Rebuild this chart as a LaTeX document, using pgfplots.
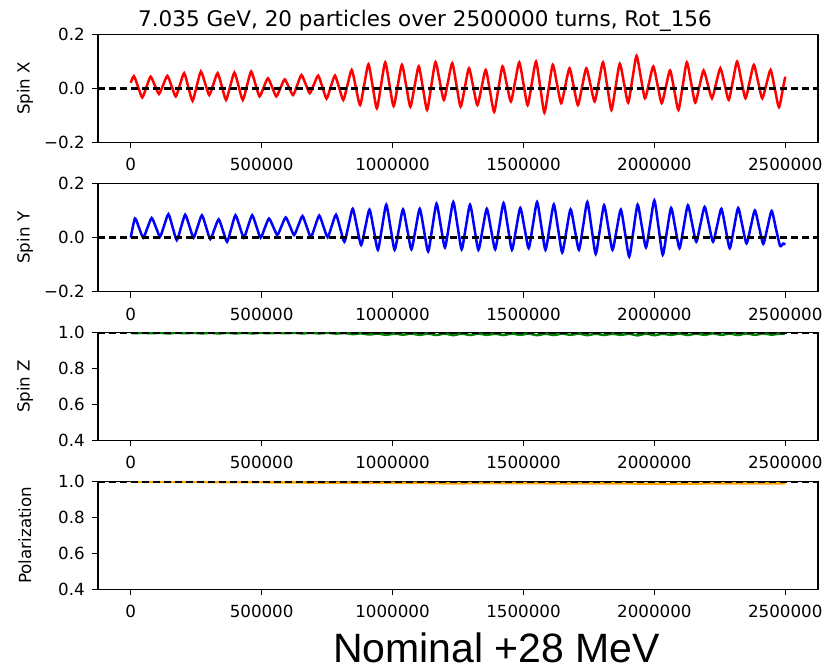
\documentclass[border=0pt]{standalone}
\usepackage{fontspec}
\setmainfont{DejaVu Sans}
\newfontfamily\bigfont{Liberation Sans}
\usepackage{pgfplots}
\pgfplotsset{compat=1.18}

\definecolor{mplred}{RGB}{255,0,0}
\definecolor{mplblue}{RGB}{0,0,255}
\definecolor{mplgreen}{RGB}{0,128,0}
\definecolor{mplorange}{RGB}{255,165,0}

\newcommand{\tickfont}{\fontsize{16.7bp}{19bp}\selectfont}

\pgfplotsset{
  spinaxis/.style={
    anchor=south west,
    width=720bp, height=108bp, scale only axis,
    xmin=-125000, xmax=2625000,
    xtick={0,500000,1000000,1500000,2000000,2500000},
    xticklabels={0,500000,1000000,1500000,2000000,2500000},
    scaled x ticks=false, scaled y ticks=false,
    tick pos=left, tick align=outside,
    major tick length=6bp,
    every tick/.style={black, line width=1.1bp},
    axis line style={black, line width=1.1bp},
    tick label style={font=\tickfont},
    xticklabel style={anchor=north, inner sep=0pt, yshift=-10bp},
    yticklabel style={anchor=east, inner sep=0pt, xshift=-7bp},
    every axis y label/.style={at={(axis description cs:-0.1014,0.5)}, rotate=90, anchor=center, font=\tickfont},
    clip=true,
  },
  trace/.style={line width=2.5bp, smooth, tension=0.4},
  refline/.style={black, line width=2.5bp, dash pattern=on 7bp off 4bp},
}

\begin{document}
\begin{tikzpicture}
\useasboundingbox (0bp,0bp) rectangle (836bp,669bp);

% ---------------- Spin X ----------------
\begin{axis}[spinaxis, at={(98bp,526.7bp)},
  ymin=-0.2, ymax=0.2, ytick={-0.2,0,0.2}, yticklabels={−0.2,0.0,0.2},
  ylabel={Spin X}]
\addplot[mplred, trace] table {
x y
0 0.020
12000 0.045
28000 0.006
44000 -0.034
60000 0.005
76000 0.043
92000 0.011
108000 -0.021
124000 0.013
140000 0.046
156000 0.008
172000 -0.030
188000 0.013
204000 0.056
220000 0.005
236000 -0.046
252000 0.008
268000 0.062
284000 0.019
300000 -0.025
316000 0.016
332000 0.056
348000 0.007
364000 -0.043
380000 0.008
396000 0.058
412000 0.008
428000 -0.043
444000 0.010
460000 0.062
476000 0.016
492000 -0.030
508000 0.004
524000 0.037
540000 0.004
556000 -0.030
572000 0.002
588000 0.033
604000 0.004
620000 -0.025
636000 0.012
652000 0.049
668000 0.016
684000 -0.018
700000 0.015
716000 0.047
732000 0.005
748000 -0.038
764000 0.005
780000 0.047
796000 0.002
812000 -0.043
828000 0.013
844000 0.068
860000 0.003
876000 -0.062
892000 0.014
908000 0.089
924000 0.008
940000 -0.074
956000 0.011
972000 0.096
988000 0.015
1004000 -0.066
1020000 0.011
1036000 0.087
1052000 0.010
1068000 -0.068
1084000 0.007
1100000 0.081
1116000 0.001
1132000 -0.080
1148000 0.009
1164000 0.097
1180000 0.027
1196000 -0.043
1212000 0.025
1228000 0.093
1244000 0.013
1260000 -0.068
1276000 0.003
1292000 0.074
1308000 0.006
1324000 -0.062
1340000 0.003
1356000 0.068
1372000 -0.010
1388000 -0.087
1404000 -0.003
1420000 0.081
1436000 0.016
1452000 -0.049
1468000 0.024
1484000 0.096
1500000 0.017
1516000 -0.062
1532000 0.019
1548000 0.099
1564000 0.005
1580000 -0.090
1596000 -0.002
1612000 0.087
1628000 0.016
1644000 -0.055
1660000 0.010
1676000 0.074
1692000 0.006
1708000 -0.062
1724000 0.006
1740000 0.074
1756000 0.013
1772000 -0.049
1788000 0.024
1804000 0.096
1820000 0.008
1836000 -0.080
1852000 0.006
1868000 0.091
1884000 0.019
1900000 -0.053
1916000 0.034
1932000 0.120
1948000 0.042
1964000 -0.037
1980000 0.022
1996000 0.081
2012000 0.013
2028000 -0.055
2044000 0.006
2060000 0.066
2076000 -0.007
2092000 -0.080
2108000 0.008
2124000 0.096
2140000 0.022
2156000 -0.053
2172000 0.007
2188000 0.066
2204000 0.015
2220000 -0.037
2236000 0.019
2252000 0.074
2268000 0.016
2284000 -0.043
2300000 0.028
2316000 0.099
2332000 0.031
2348000 -0.037
2364000 0.025
2380000 0.087
2396000 0.025
2412000 -0.037
2428000 0.016
2444000 0.068
2460000 -0.001
2476000 -0.070
2492000 0.005
2500000 0.043
};
\addplot[refline] coordinates {(-125000,0) (2625000,0)};
\end{axis}

% ---------------- Spin Y ----------------
\begin{axis}[spinaxis, at={(98bp,377.3bp)},
  ymin=-0.2, ymax=0.2, ytick={-0.2,0,0.2}, yticklabels={−0.2,0.0,0.2},
  ylabel={Spin Y}]
\addplot[mplblue, trace] table {
x y
0 0.000
16000 0.071
32000 0.036
48000 0.000
64000 0.037
80000 0.073
96000 0.039
112000 0.004
128000 0.046
144000 0.087
160000 0.039
176000 -0.009
192000 0.038
208000 0.085
224000 0.043
240000 0.000
256000 0.042
272000 0.083
288000 0.039
304000 -0.005
320000 0.032
336000 0.068
352000 0.027
368000 -0.015
384000 0.034
400000 0.083
416000 0.042
432000 0.000
448000 0.042
464000 0.083
480000 0.042
496000 0.000
512000 0.036
528000 0.071
544000 0.041
560000 0.010
576000 0.043
592000 0.075
608000 0.043
624000 0.010
640000 0.045
656000 0.080
672000 0.041
688000 0.002
704000 0.042
720000 0.082
736000 0.042
752000 0.002
768000 0.044
784000 0.085
800000 0.035
816000 -0.015
832000 0.046
848000 0.107
864000 0.040
880000 -0.027
896000 0.039
912000 0.104
928000 0.030
944000 -0.045
960000 0.039
976000 0.122
992000 0.039
1008000 -0.045
1024000 0.030
1040000 0.105
1056000 0.031
1072000 -0.043
1088000 0.032
1104000 0.107
1120000 0.028
1136000 -0.051
1152000 0.038
1168000 0.126
1184000 0.045
1200000 -0.036
1216000 0.048
1232000 0.132
1248000 0.045
1264000 -0.043
1280000 0.040
1296000 0.122
1312000 0.039
1328000 -0.045
1344000 0.031
1360000 0.107
1376000 0.032
1392000 -0.043
1408000 0.043
1424000 0.128
1440000 0.042
1456000 -0.045
1472000 0.033
1488000 0.110
1504000 0.036
1520000 -0.039
1536000 0.047
1552000 0.132
1568000 0.044
1584000 -0.045
1600000 0.039
1616000 0.123
1632000 0.034
1648000 -0.055
1664000 0.025
1680000 0.105
1696000 0.030
1712000 -0.045
1728000 0.044
1744000 0.132
1760000 0.036
1776000 -0.060
1792000 0.030
1808000 0.120
1824000 0.038
1840000 -0.045
1856000 0.030
1872000 0.104
1888000 0.017
1904000 -0.070
1920000 0.026
1936000 0.122
1952000 0.043
1968000 -0.036
1984000 0.051
2000000 0.138
2016000 0.038
2032000 -0.063
2048000 0.024
2064000 0.110
2080000 0.036
2096000 -0.039
2112000 0.041
2128000 0.120
2144000 0.053
2160000 -0.015
2176000 0.050
2192000 0.114
2208000 0.050
2224000 -0.015
2240000 0.046
2256000 0.107
2272000 0.034
2288000 -0.039
2304000 0.036
2320000 0.110
2336000 0.045
2352000 -0.021
2368000 0.040
2384000 0.101
2400000 0.039
2416000 -0.023
2432000 0.038
2448000 0.099
2464000 0.035
2480000 -0.030
2492000 -0.022
2500000 -0.025
};
\addplot[refline] coordinates {(-125000,0) (2625000,0)};
\end{axis}

% ---------------- Spin Z ----------------
\begin{axis}[spinaxis, at={(98bp,228.7bp)},
  ymin=0.4, ymax=1.0, ytick={0.4,0.6,0.8,1.0}, yticklabels={0.4,0.6,0.8,1.0},
  ylabel={Spin Z}]
\addplot[mplgreen, trace] table {
x y
0 0.998
16000 0.995
48000 0.997
80000 0.995
112000 0.997
144000 0.994
176000 0.997
208000 0.995
240000 0.997
272000 0.994
304000 0.997
336000 0.994
368000 0.997
400000 0.994
432000 0.997
464000 0.994
496000 0.997
528000 0.995
560000 0.997
592000 0.995
624000 0.997
656000 0.994
688000 0.997
720000 0.994
752000 0.997
784000 0.993
816000 0.996
848000 0.990
880000 0.994
912000 0.988
944000 0.993
976000 0.986
1008000 0.993
1040000 0.987
1072000 0.993
1104000 0.986
1136000 0.993
1168000 0.985
1200000 0.993
1232000 0.984
1264000 0.993
1296000 0.985
1328000 0.993
1360000 0.986
1392000 0.992
1424000 0.985
1456000 0.993
1488000 0.986
1520000 0.993
1552000 0.984
1584000 0.992
1616000 0.985
1648000 0.993
1680000 0.986
1712000 0.993
1744000 0.984
1776000 0.992
1808000 0.985
1840000 0.992
1872000 0.986
1904000 0.992
1936000 0.983
1968000 0.993
2000000 0.984
2032000 0.992
2064000 0.986
2096000 0.993
2128000 0.985
2160000 0.993
2192000 0.986
2224000 0.994
2256000 0.986
2288000 0.993
2320000 0.985
2352000 0.994
2384000 0.986
2416000 0.994
2448000 0.987
2480000 0.993
2500000 0.992
};
\addplot[refline] coordinates {(-125000,1) (2625000,1)};
\end{axis}

% ---------------- Polarization ----------------
\begin{axis}[spinaxis, at={(98bp,79.7bp)},
  ymin=0.4, ymax=1.0, ytick={0.4,0.6,0.8,1.0}, yticklabels={0.4,0.6,0.8,1.0},
  ylabel={Polarization}]
\addplot[mplorange, line width=2.5bp] table {
x y
0 0.998
100000 0.997
200000 0.997
300000 0.996
400000 0.995
500000 0.995
600000 0.994
700000 0.993
800000 0.993
900000 0.992
1000000 0.991
1100000 0.991
1200000 0.989
1250000 0.988
1300000 0.990
1400000 0.990
1500000 0.990
1600000 0.989
1700000 0.989
1800000 0.989
1900000 0.988
2000000 0.987
2050000 0.986
2100000 0.987
2200000 0.988
2300000 0.988
2400000 0.988
2500000 0.988
};
\addplot[refline] coordinates {(-125000,1) (2625000,1)};
\end{axis}

\node[anchor=base, inner sep=0pt, font=\fontsize{21.5bp}{24bp}\selectfont] at (425bp,642bp) {7.035 GeV, 20 particles over 2500000 turns, Rot\_156};
\node[anchor=base west, inner sep=0pt, font=\bigfont\fontsize{41bp}{46bp}\selectfont] at (333bp,7bp) {Nominal +28 MeV};
\end{tikzpicture}
\end{document}
